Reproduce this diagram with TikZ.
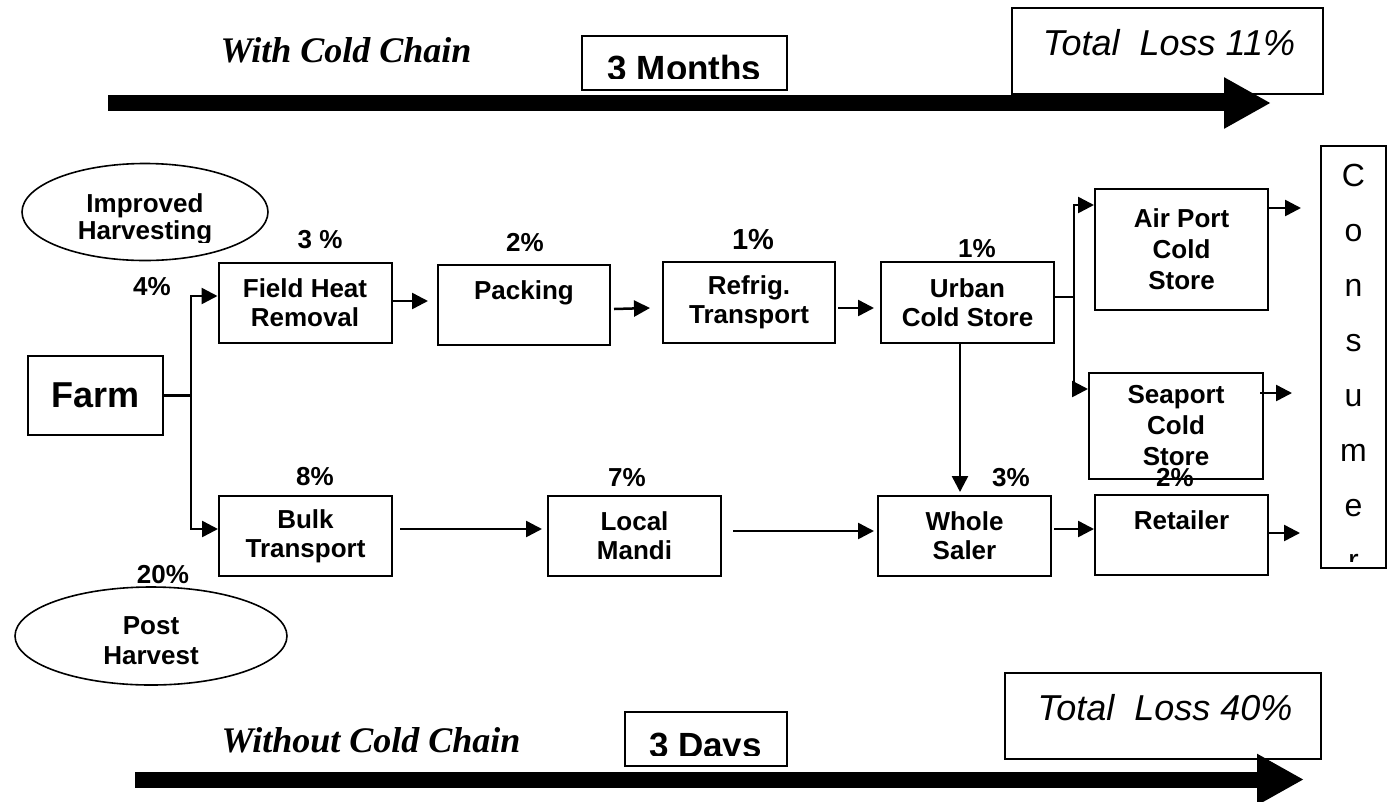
\documentclass[tikz,border=0pt]{standalone}
\usepackage{fontspec}
\setmainfont{Liberation Sans}
\newfontfamily\timesfont{Liberation Serif}
\usetikzlibrary{arrows.meta,shapes.geometric}

\begin{document}
\begin{tikzpicture}[x=1pt,y=-1pt,
  stagebox/.style={draw, line width=2pt, rectangle, inner sep=0pt,
    minimum width=173pt, minimum height=80pt, align=center,
    font=\bfseries\fontsize{26pt}{29pt}\selectfont},
  tallbox/.style={stagebox, font=\bfseries\fontsize{26pt}{31pt}\selectfont},
  oval/.style={draw, line width=1.6pt, ellipse, inner sep=0pt},
  boldtxt/.style={inner sep=0pt, font=\bfseries\fontsize{26pt}{29pt}\selectfont},
  pct/.style={boldtxt},
  timebox/.style={draw, line width=2pt, rectangle, inner sep=0pt},
  timetxt/.style={inner sep=0pt, font=\bfseries\fontsize{35pt}{40pt}\selectfont},
  lossbox/.style={draw, line width=1.6pt, rectangle, inner sep=0pt},
  losstxt/.style={inner sep=0pt, font=\itshape\fontsize{36pt}{40pt}\selectfont},
  headline/.style={inner sep=0pt, font=\timesfont\bfseries\itshape\fontsize{36pt}{40pt}\selectfont},
  letter/.style={inner sep=0pt, font=\fontsize{32pt}{36pt}\selectfont},
  conn/.style={line width=2.5pt},
  arr/.style={line width=2.5pt, -{Triangle[length=16pt,width=16pt]}},
  bigarrow/.style={line width=16pt, -{Triangle[length=47pt,width=48pt]}}
]
\fill[white] (0,0) rectangle (1394,801);
\useasboundingbox (0,0) rectangle (1394,801);

% ---------- cold chain banner ----------
\node[headline, anchor=base] (withcc) at (346,62) {With Cold Chain};
\node[timebox, minimum width=205pt, minimum height=54pt] (months) at (684.5,63) {};
\begin{scope}
  \clip (582,36) rectangle (787,78);
  \node[timetxt, anchor=base] (monthstxt) at (684.5,80) {3 Months};
\end{scope}
\node[lossbox, minimum width=311pt, minimum height=86pt] (loss11) at (1167.5,51) {};
\node[losstxt, anchor=base] (loss11txt) at (1169,55) {Total~~Loss 11\%};
\coordinate (topS) at (108,103);
\coordinate (topE) at (1271,103);
\draw[bigarrow] (topS) -- (topE);

% ---------- ovals ----------
\node[oval, minimum width=246pt, minimum height=97pt] (improved) at (145,212) {};
\begin{scope}
  \clip (20,150) rectangle (280,242);
  \node[boldtxt, anchor=base] (imptxt1) at (145,212) {Improved};
  \node[boldtxt, anchor=base] (imptxt2) at (145,239) {Harvesting};
\end{scope}
\node[oval, minimum width=272pt, minimum height=98pt] (post) at (151,636) {};
\node[boldtxt, anchor=base] (posttxt1) at (151,634) {Post};
\node[boldtxt, anchor=base] (posttxt2) at (151,664) {Harvest};

% ---------- stages ----------
\node[stagebox, minimum width=135pt, minimum height=79pt,
      font=\bfseries\fontsize{36pt}{40pt}\selectfont] (farm) at (95.5,395.5) {Farm};
\node[stagebox] (field)  at (305,302.5)  {Field Heat\\Removal};
\node[stagebox, minimum width=172pt] (pack) at (524,305) {Packing\\\phantom{P}};
\node[stagebox, minimum width=172pt, minimum height=81pt] (refrig) at (749,302.5) {Refrig.\\Transport};
\node[stagebox, minimum height=81pt] (urban) at (967.5,302.5) {Urban\\Cold Store};
\node[tallbox, minimum height=121pt] (air) at (1181.5,249.5) {Air Port\\Cold\\Store};
\node[tallbox, minimum width=174pt, minimum height=106pt] (sea) at (1176,426) {Seaport\\Cold\\Store};
\node[stagebox] (bulk)   at (305.5,536) {Bulk\\Transport};
\node[stagebox] (mandi)  at (634.5,536) {Local\\Mandi};
\node[stagebox] (whole)  at (964.5,536) {Whole\\Saler};
\node[stagebox] (retail) at (1181.5,535) {Retailer\\\phantom{R}};
\node[draw, line width=2pt, rectangle, inner sep=0pt, minimum width=65pt,
      minimum height=422pt] (consumer) at (1353.5,357) {};
\begin{scope}
  \clip (1321,146) rectangle (1386,561);
  \foreach \ch [count=\i from 0] in {C,o,n,s,u,m,e,r}
    \node[letter, anchor=base] (cons\i) at (1353.5,{186+55*\i}) {\ch};
\end{scope}

% ---------- loss figures ----------
\node[pct] (l4)  at (152,287) {4\%};
\node[pct] (l3)  at (320,240) {3 \%};
\node[pct] (l2)  at (525,243) {2\%};
\node[pct, font=\bfseries\fontsize{29pt}{32pt}\selectfont] (l1a) at (753,240) {1\%};
\node[pct] (l1b) at (977,249) {1\%};
\node[pct] (l8)  at (315,477) {8\%};
\node[pct] (l7)  at (627,478) {7\%};
\node[pct] (l3b) at (1011,478) {3\%};
\node[pct] (l2b) at (1175,478) {2\%};
\node[pct] (l20) at (163,575) {20\%};

% ---------- connectors ----------
\coordinate (fj) at (191,395.5);
\draw[conn] (farm.east) -- (fj);
\draw[arr] (fj) |- ([shift={(0,-6.5)}]field.west);
\draw[arr] (fj) |- ([shift={(0,-7)}]bulk.west);

\draw[arr] ([shift={(0,-1.5)}]field.east) -- ([shift={(-9,-4)}]pack.west);
\draw[arr] ([shift={(3,4)}]pack.east) -- ([shift={(-12,5.5)}]refrig.west);
\draw[arr] ([shift={(2,5.5)}]refrig.east) -- ([shift={(-6,5.5)}]urban.west);

\coordinate (bj) at (1074,297);
\draw[conn] ([shift={(0,-5.5)}]urban.east) -- (bj);
\draw[arr] (bj) |- ([shift={(0,-44.5)}]air.west);
\draw[arr] (bj) |- ([shift={(0,-37)}]sea.west);
\draw[arr] ([shift={(-7.5,0)}]urban.south) -- ([shift={(-4.5,-3)}]whole.north);

\draw[arr] ([shift={(7,-7)}]bulk.east) -- ([shift={(-5,-7)}]mandi.west);
\draw[arr] ([shift={(11,-5)}]mandi.east) -- ([shift={(-3,-5)}]whole.west);
\draw[arr] ([shift={(2,-7)}]whole.east) -- ([shift={(0,-6)}]retail.west);

\draw[arr] ([shift={(0,-41.5)}]air.east) -- ([shift={(-19,-149)}]consumer.west);
\draw[arr] ([shift={(-4,-33)}]sea.east) -- ([shift={(-28,36)}]consumer.west);
\draw[arr] ([shift={(-1,-2)}]retail.east) -- ([shift={(-20,176)}]consumer.west);

% ---------- no cold chain banner ----------
\node[headline, anchor=base] (withoutcc) at (371,752) {Without Cold Chain};
\node[timebox, minimum width=162pt, minimum height=54pt] (days) at (706,739) {};
\begin{scope}
  \clip (625,712) rectangle (787,755.5);
  \node[timetxt, anchor=base] (daystxt) at (705.5,757) {3 Days};
\end{scope}
\node[lossbox, minimum width=316pt, minimum height=86pt] (loss40) at (1163,716) {};
\node[losstxt, anchor=base] (loss40txt) at (1165,720) {Total~~Loss 40\%};
\coordinate (botS) at (135,779.5);
\coordinate (botE) at (1304,779.5);
\draw[bigarrow] (botS) -- (botE);
\end{tikzpicture}
\end{document}
